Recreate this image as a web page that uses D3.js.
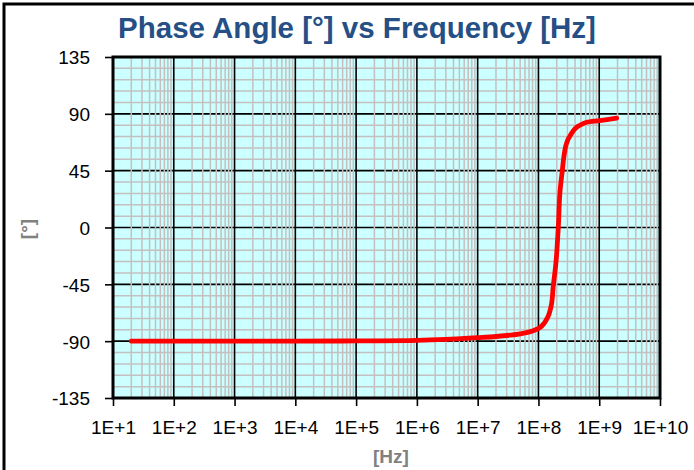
<!DOCTYPE html>
<html>
<head>
<meta charset="utf-8">
<script src="https://cdn.jsdelivr.net/npm/d3@7"></script>
<style>
  body { margin: 0; background: #fff; }
  text { font-family: "Liberation Sans", Arial, sans-serif; }
</style>
</head>
<body>
<div id="my_chart"></div>
<script>
// values
var freqs  = [20, 100, 1e3, 1e4, 1e5, 1e6, 3e6, 1e7, 2e7, 3.4e7, 5e7, 8.2e7, 1.12e8, 1.44e8, 1.65e8, 1.75e8,
              1.94e8, 2.12e8, 2.26e8, 2.47e8, 2.62e8, 2.8e8, 3.05e8, 3.4e8, 3.8e8, 4.3e8, 5.14e8, 6.2e8, 1.02e9, 1.94e9]
var phases = [-90, -90, -90, -90, -89.8, -89.4, -88.6, -87.2, -86.3, -85.3, -84.2, -81.8, -78.3, -70.5, -60, -46.6,
              -28, 0, 28, 45, 56, 64, 69.5, 73.5, 77, 79.6, 81.6, 83.3, 84.7, 86.6]
var yTicks = [-135, -90, -45, 0, 45, 90, 135]
var yTickLabels = ["-135", "-90", "-45", "0", "45", "90", "135"]
var xTicks = [1e1, 1e2, 1e3, 1e4, 1e5, 1e6, 1e7, 1e8, 1e9, 1e10]
var xTickLabels = ["1E+1", "1E+2", "1E+3", "1E+4", "1E+5", "1E+6", "1E+7", "1E+8", "1E+9", "1E+10"]

var width = 694
    height = 470
var plot = {left: 113, top: 57, right: 660, bottom: 398}

var svg = d3.select("#my_chart")
  .append("svg")
    .attr("width", width)
    .attr("height", height)

// outer frame (cut off at right and bottom)
svg.append("rect")
  .attr("x", 4).attr("y", 4)
  .attr("width", width + 20).attr("height", height + 20)
  .attr("fill", "none")
  .attr("stroke", "black")
  .attr("stroke-width", 3)

var x = d3.scaleLog()
  .domain([1e1, 1e10])
  .range([plot.left, plot.right])
var y = d3.scaleLinear()
  .domain([-135, 135])
  .range([plot.bottom, plot.top])

svg.append("rect")
  .attr("x", plot.left).attr("y", plot.top)
  .attr("width", plot.right - plot.left).attr("height", plot.bottom - plot.top)
  .attr("fill", "#ccffff")

// minor grid values
var yMinor = d3.range(-135, 136, 9).filter(function(v){ return v % 45 != 0 })
var xMinor = []
xTicks.slice(0, -1).forEach(function(d){
  for (var k = 2; k < 10; k++) xMinor.push(d * k)
})

var grid = svg.append("g")
grid.selectAll(".hmin").data(yMinor).enter().append("line")
  .attr("x1", plot.left).attr("x2", plot.right)
  .attr("y1", function(d){ return y(d) }).attr("y2", function(d){ return y(d) })
  .attr("stroke", "#c4c0c0").attr("stroke-width", 1.5)
grid.selectAll(".hmaj").data(yTicks).enter().append("line")
  .attr("x1", plot.left).attr("x2", plot.right)
  .attr("y1", function(d){ return y(d) }).attr("y2", function(d){ return y(d) })
  .attr("stroke", "black").attr("stroke-width", 1.6)
grid.selectAll(".vmin").data(xMinor).enter().append("line")
  .attr("y1", plot.top).attr("y2", plot.bottom)
  .attr("x1", function(d){ return x(d) }).attr("x2", function(d){ return x(d) })
  .attr("stroke", "#c4c0c0").attr("stroke-width", 1.5)
grid.selectAll(".vmaj").data(xTicks).enter().append("line")
  .attr("y1", plot.top).attr("y2", plot.bottom)
  .attr("x1", function(d){ return x(d) }).attr("x2", function(d){ return x(d) })
  .attr("stroke", "black").attr("stroke-width", 1.6)

// plot border
svg.append("rect")
  .attr("x", plot.left).attr("y", plot.top)
  .attr("width", plot.right - plot.left).attr("height", plot.bottom - plot.top)
  .attr("fill", "none")
  .attr("stroke", "black")
  .attr("stroke-width", 3)

// axes
var yAxis = svg.append("g")
  .attr("transform", "translate(" + plot.left + ",0)")
  .call(d3.axisLeft(y).tickValues(yTicks).tickSize(8).tickPadding(15)
    .tickFormat(function(d, i){ return yTickLabels[i] }))
var xAxis = svg.append("g")
  .attr("transform", "translate(0," + plot.bottom + ")")
  .call(d3.axisBottom(x).tickValues(xTicks).tickSize(8).tickPadding(15)
    .tickFormat(function(d, i){ return xTickLabels[i] }))
;[yAxis, xAxis].forEach(function(a){
  a.select(".domain").remove()
  a.selectAll("line").attr("stroke", "black").attr("stroke-width", 1.6)
  a.selectAll("text").attr("fill", "black").style("font-size", "19px")
})
yAxis.selectAll("text").attr("dy", "0.36em")

// the curve
var pts = freqs.map(function(f, i){ return [f, phases[i]] })
svg.append("path")
  .datum(pts)
  .attr("d", d3.line()
    .x(function(d){ return x(d[0]) })
    .y(function(d){ return y(d[1]) })
    .curve(d3.curveCatmullRom.alpha(0.5)))
  .attr("fill", "none")
  .attr("stroke", "#ff0000")
  .attr("stroke-width", 4.8)
  .attr("stroke-linecap", "round")

// titles
svg.append("text")
  .attr("x", 357).attr("y", 38)
  .attr("text-anchor", "middle")
  .attr("fill", "#254f85")
  .style("font-size", "29.5px")
  .style("font-weight", "bold")
  .text("Phase Angle [°] vs Frequency [Hz]")
svg.append("text")
  .attr("x", 391).attr("y", 463)
  .attr("text-anchor", "middle")
  .attr("fill", "#808080")
  .style("font-size", "19px")
  .style("font-weight", "bold")
  .text("[Hz]")
svg.append("text")
  .attr("transform", "translate(34,229) rotate(-90)")
  .attr("text-anchor", "middle")
  .attr("fill", "#808080")
  .style("font-size", "19px")
  .style("font-weight", "bold")
  .text("[°]")
</script>
</body>
</html>
